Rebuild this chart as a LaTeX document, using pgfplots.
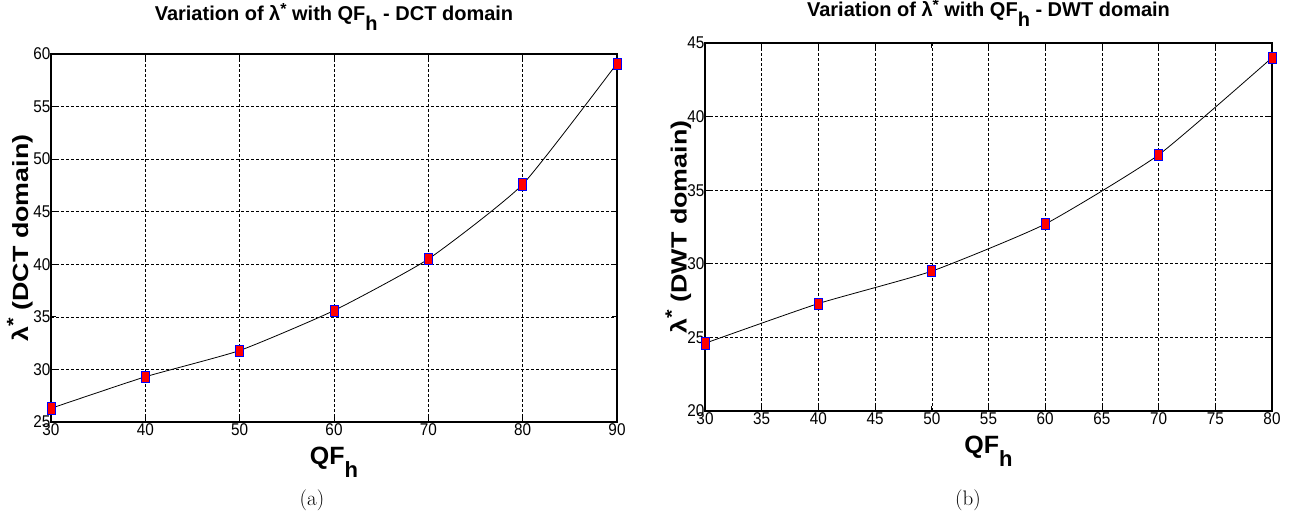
\documentclass[border=0pt]{standalone}
\usepackage{pgfplots}
\pgfplotsset{compat=1.18}
\usepackage{fontspec}
\setmainfont{Liberation Sans}
\newcommand{\cond}[1]{\scalebox{0.9}[1]{#1}}
\pgfplotsset{
  mat/.style={
    scale only axis,
    anchor=south west,
    grid=major,
    major grid style={densely dashed, black, line width=0.6pt},
    tick align=inside,
    major tick length=5pt,
    axis line style={line width=1.3pt},
    tick style={black, line width=0.8pt},
    /pgf/number format/assume math mode=true,
    ticklabel style={font=\fontsize{17}{18}\selectfont},
    xticklabel={\cond{\pgfmathprintnumber{\tick}}},
    yticklabel={\cond{\pgfmathprintnumber{\tick}}},
    xticklabel style={yshift=2pt},
    yticklabel style={xshift=3pt},
    xlabel style={at={(axis description cs:0.5,0)}, anchor=base, yshift=-43pt},
    ylabel style={anchor=center, font=\bfseries\fontsize{22}{23}\selectfont},
    title style={at={(axis description cs:0.5,1)}, anchor=base, font=\bfseries\fontsize{20}{21}\selectfont},
  },
  pl/.style={black, line width=0.8pt, smooth, tension=0.3,
    mark=square*, mark size=5.6pt,
    mark options={xscale=0.72, fill=red, draw=blue, line width=0.7pt, solid}},
}
\newcommand{\qfh}{\bfseries\fontsize{25}{26}\selectfont QF\raisebox{-0.5em}{\fontsize{22}{23}\selectfont h}}
\newcommand{\ttl}[1]{Variation of λ\raisebox{0.3em}{\fontsize{16}{16}\selectfont *} with QF\raisebox{-0.5em}{h} - #1 domain}
\newcommand{\ylab}[1]{\scalebox{1.22}[1]{λ\raisebox{0.4em}{\fontsize{18}{18}\selectfont *} (#1 domain)}}
\begin{document}
\begin{tikzpicture}
\useasboundingbox (0pt,0pt) rectangle (1293pt,519pt);
\begin{axis}[mat, at={(51pt,97pt)}, width=566pt, height=368pt,
  xmin=30, xmax=90, ymin=25, ymax=60,
  xtick={30,40,...,90}, ytick={25,30,...,60},
  xlabel={\qfh},
  ylabel={\ylab{DCT}},
  ylabel style={at={(axis description cs:-0.055,0.5)}},
  title={\ttl{DCT}},
  title style={yshift=27pt},
]
\addplot[pl] coordinates {
(30,26.3) (40,29.3) (50,31.8) (60,35.6) (70,40.5) (80,47.6) (90,59.1)};
\end{axis}
\begin{axis}[mat, at={(705pt,108pt)}, width=567pt, height=368pt,
  xmin=30, xmax=80, ymin=20, ymax=45,
  xtick={30,35,...,80}, ytick={20,25,...,45},
  xlabel={\qfh},
  ylabel={\ylab{DWT}},
  ylabel style={at={(axis description cs:-0.047,0.5)}},
  title={\ttl{DWT}},
  title style={yshift=20.5pt},
]
\addplot[pl] coordinates {
(30,24.6) (40,27.3) (50,29.5) (60,32.7) (70,37.4) (80,44.0)};
\end{axis}
\node[font=\fontfamily{lmr}\selectfont\fontsize{21}{22}\selectfont] at (312pt,19pt) {(a)};
\node[font=\fontfamily{lmr}\selectfont\fontsize{21}{22}\selectfont] at (968pt,19pt) {(b)};
\end{tikzpicture}
\end{document}
